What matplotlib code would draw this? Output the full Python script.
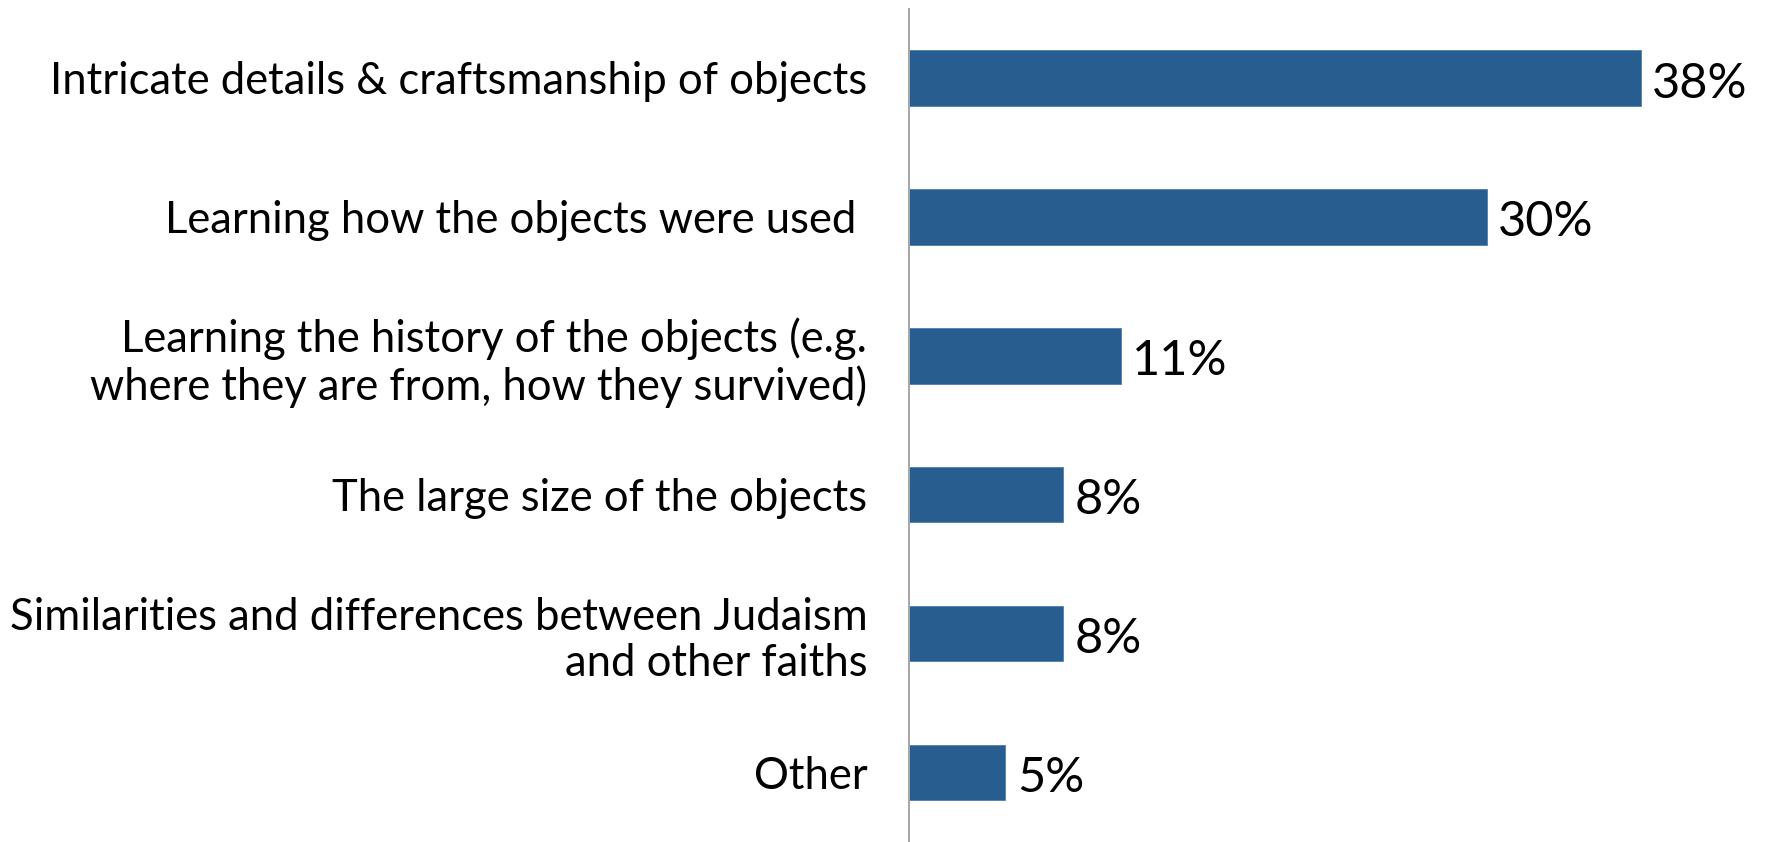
import matplotlib.pyplot as plt

# survey answers, top to bottom
categories = [
    'Intricate details & craftsmanship of objects',
    'Learning how the objects were used ',
    'Learning the history of the objects (e.g.\nwhere they are from, how they survived)',
    'The large size of the objects',
    'Similarities and differences between Judaism\nand other faiths',
    'Other',
]
percents = [38, 30, 11, 8, 8, 5]

bar_color = '#285D8F'
plt.rcParams['font.family'] = ['Lato', 'DejaVu Sans']

W, H = 1766, 842
fig = plt.figure(figsize=(W / 100, H / 100), dpi=100)
ax = fig.add_axes([909 / W, 0, 847 / W, (H - 8.5) / H])

y = list(range(len(categories)))
ax.barh(y, percents, height=0.4, color=bar_color,
        edgecolor='#4F7FB0', linewidth=0.6)
ax.set_ylim(len(categories) - 0.5, -0.5)
ax.set_xlim(0, 44)

# value labels sit a touch below the bar centre
for yi, p in zip(y, percents):
    ax.text(p + 0.6, yi + 0.04, f'{p}%', va='center', ha='left', fontsize=35)

ax.set_yticks(y)
ax.set_yticklabels(categories, fontsize=31.4, linespacing=1.15)
ax.tick_params(axis='y', length=0, pad=30)
ax.set_xticks([])

for side in ['top', 'right', 'bottom']:
    ax.spines[side].set_visible(False)
ax.spines['left'].set_color('#A6A6A6')
ax.spines['left'].set_linewidth(1.4)

fig.savefig('out.png', dpi=100)
